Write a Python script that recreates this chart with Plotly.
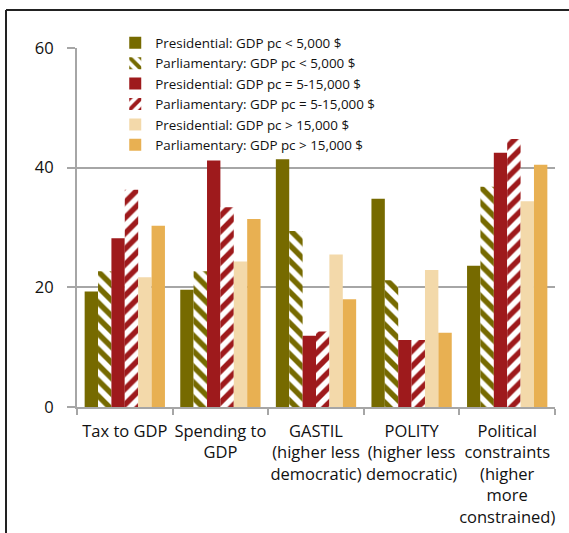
import plotly.graph_objects as go

categories = ["Tax to GDP", "Spending to<br>GDP", "GASTIL<br>(higher less<br>democratic)",
              "POLITY<br>(higher less<br>democratic)", "Political<br>constraints<br>(higher<br>more<br>constrained)"]

pres_low = [19.3, 19.6, 41.4, 34.8, 23.6]
parl_low = [22.7, 22.7, 29.4, 21.2, 36.8]
pres_mid = [28.2, 41.2, 11.9, 11.2, 42.5]
parl_mid = [36.3, 33.4, 12.6, 11.2, 44.8]
pres_high = [21.7, 24.3, 25.5, 22.9, 34.4]
parl_high = [30.3, 31.4, 18.0, 12.4, 40.5]

series = [
    ("Presidential: GDP pc < 5,000 $", pres_low, "#766a00", None),
    ("Parliamentary: GDP pc < 5,000 $", parl_low, "#766a00", "\\"),
    ("Presidential: GDP pc = 5-15,000 $", pres_mid, "#9e1a1c", None),
    ("Parliamentary: GDP pc = 5-15,000 $", parl_mid, "#9e1a1c", "/"),
    ("Presidential: GDP pc > 15,000 $", pres_high, "#f3d9aa", None),
    ("Parliamentary: GDP pc > 15,000 $", parl_high, "#e8b052", None),
]

fig = go.Figure()
for name, vals, col, pat in series:
    if pat:
        marker = dict(color=col, line=dict(width=0),
                      pattern=dict(shape=pat, fgcolor=col, bgcolor="white",
                                   size=11, solidity=0.5, fillmode="replace"))
    else:
        marker = dict(color=col, line=dict(width=0))
    fig.add_trace(go.Bar(name=name, x=categories, y=vals, marker=marker))

W, H = 569, 533
L, R, T, B = 77, 14, 48, 126
pw = W - L - R
ph = H - T - B
bx = (6 - L) / pw
by = 1 + (T - 10) / ph
gx0 = (98 - L) / pw
gx1 = (395 - L) / pw

fig.update_layout(
    width=W, height=H,
    margin=dict(l=L, r=R, t=T, b=B, pad=0, autoexpand=False),
    paper_bgcolor="white", plot_bgcolor="white",
    barmode="group", bargap=0.16, bargroupgap=0,
    font=dict(family="Open Sans", size=15, color="#111111"),
    showlegend=True,
    legend=dict(x=0.08, y=1.057, xanchor="left", yanchor="top",
                bgcolor="rgba(0,0,0,0)", font=dict(size=13.4, color="#111111"),
                tracegroupgap=0, traceorder="normal",
                itemsizing="constant"),
    xaxis=dict(showline=True, linecolor="#a6a6a6", linewidth=2,
               ticks="outside", tickson="boundaries", ticklen=6,
               tickcolor="#a6a6a6", tickwidth=2, showgrid=False,
               tickangle=0, automargin=False, ticklabelstandoff=8,
               tickfont=dict(size=16.5)),
    yaxis=dict(range=[0, 60], tickvals=[0, 20, 40, 60], showline=True,
               linecolor="#a6a6a6", linewidth=2, ticks="outside", ticklen=8,
               tickcolor="#a6a6a6", tickwidth=2, showgrid=True,
               gridcolor="#a6a6a6", gridwidth=2, zeroline=False,
               automargin=False,
               tickfont=dict(size=16.5), ticklabelstandoff=10),
    shapes=[
        # legend box background hides the top gridline behind it
        dict(type="rect", xref="paper", yref="paper", x0=gx0, x1=gx1,
             y0=0.99, y1=1.01, fillcolor="white", line=dict(width=0),
             layer="between"),
        dict(type="line", xref="paper", yref="paper", x0=bx, x1=bx,
             y0=-0.5, y1=by, line=dict(color="#222222", width=2),
             layer="above"),
        dict(type="line", xref="paper", yref="paper", x0=bx, x1=1.2,
             y0=by, y1=by, line=dict(color="#222222", width=2),
             layer="above"),
    ],
)

fig.write_html("out.html", config={"displayModeBar": False},
               post_script="document.body.style.margin='0';")
